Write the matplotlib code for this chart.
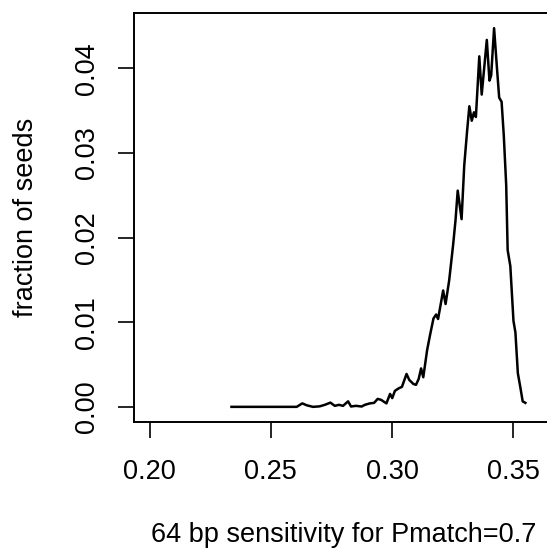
import matplotlib
matplotlib.use('Agg')
import matplotlib.pyplot as plt

# sensitivity histogram
sensitivity = [0.2338, 0.2607, 0.2630, 0.2649, 0.2674, 0.2702, 0.2723, 0.2746,
               0.2764, 0.2781, 0.2798, 0.2819, 0.2831, 0.2851, 0.2875, 0.2888,
               0.2909, 0.2926, 0.2941, 0.2955, 0.2977, 0.2992, 0.3001, 0.3012,
               0.3029, 0.3041, 0.3060, 0.3071, 0.3088, 0.3099, 0.3110, 0.3120,
               0.3129, 0.3145, 0.3157, 0.3171, 0.3182, 0.3190, 0.3211, 0.3221,
               0.3236, 0.3252, 0.3262, 0.3271, 0.3287, 0.3298, 0.3310, 0.3319,
               0.3329, 0.3338, 0.3346, 0.3360, 0.3370, 0.3391, 0.3402, 0.3409,
               0.3421, 0.3433, 0.3442, 0.3452, 0.3461, 0.3471, 0.3477, 0.3488,
               0.3501, 0.3509, 0.3519, 0.3529, 0.3539, 0.3550]
fraction = [0.0, 0.0, 0.00041, 0.00018, 0.0, 0.00006, 0.00024, 0.00050,
            0.00012, 0.00024, 0.00012, 0.00065, 0.00004, 0.00012, 0.00004, 0.00024,
            0.00041, 0.00047, 0.00094, 0.00083, 0.00041, 0.00153, 0.00103, 0.00189,
            0.00221, 0.00236, 0.00389, 0.00319, 0.00271, 0.00260, 0.00330, 0.00454,
            0.00350, 0.00673, 0.00850, 0.01044, 0.01091, 0.01038, 0.01375, 0.01215,
            0.01499, 0.01912, 0.02206, 0.02555, 0.02218, 0.02855, 0.03268, 0.03552,
            0.03381, 0.03481, 0.03425, 0.04142, 0.03690, 0.04336, 0.03855, 0.03917,
            0.04475, 0.04000, 0.03654, 0.03605, 0.03209, 0.02619, 0.01852, 0.01664,
            0.01015, 0.00879, 0.00398, 0.00236, 0.00065, 0.00047]

x_ticks = [0.20, 0.25, 0.30, 0.35]
y_ticks = [0.00, 0.01, 0.02, 0.03, 0.04]
x_range = (0.20, 0.36)

plt.rcParams['font.family'] = ['Liberation Sans', 'DejaVu Sans']

fig = plt.figure(figsize=(5.47, 5.48), dpi=100)
# axes box runs a bit past the right edge, like the cropped R plot
ax = fig.add_axes([134 / 547, 126 / 548, 419 / 547, 409 / 548])

ax.plot(sensitivity, fraction, color='black', linewidth=1.8)

# R style 4% padding
pad = 0.04 * (x_range[1] - x_range[0])
ax.set_xlim(x_range[0] - pad, x_range[1] + pad)
ymax = max(fraction)
ax.set_ylim(-0.04 * ymax, 1.04 * ymax)

ax.set_xticks(x_ticks)
ax.set_xticklabels(['%.2f' % v for v in x_ticks])
ax.set_yticks(y_ticks)
ax.set_yticklabels(['%.2f' % v for v in y_ticks])
for lab in ax.get_yticklabels():
    lab.set_rotation(90)
    lab.set_va('center')

fs = 19.5
ax.tick_params(direction='out', length=11.5, width=1.2, labelsize=fs)
ax.tick_params(axis='x', pad=15)
ax.tick_params(axis='y', pad=13)
for sp in ax.spines.values():
    sp.set_linewidth(1.4)

ax.set_xlabel('64 bp sensitivity for Pmatch=0.7', fontsize=fs, labelpad=27)
ax.set_ylabel('fraction of seeds', fontsize=fs, labelpad=25)

fig.savefig('out.png', dpi=100)
